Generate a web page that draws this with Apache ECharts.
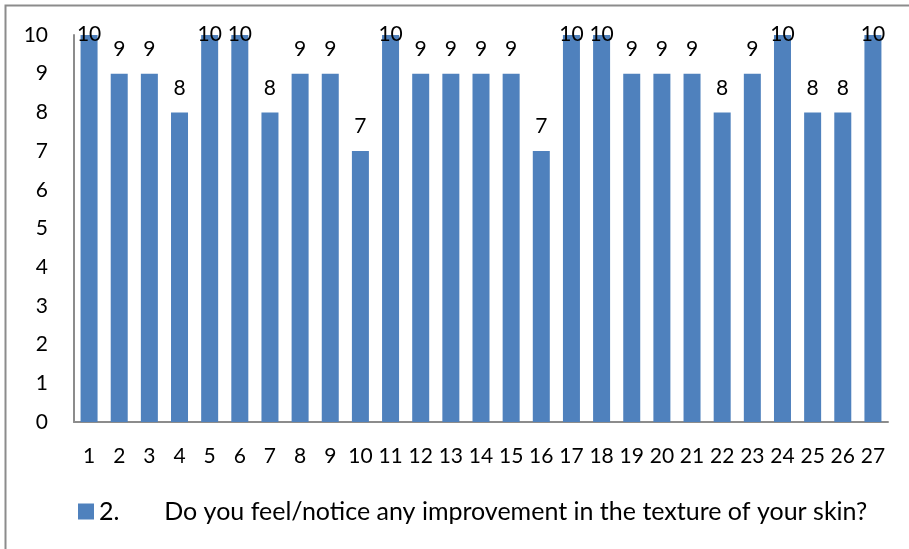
<!DOCTYPE html>
<html>
<head>
<meta charset="utf-8">
<script src="https://cdn.jsdelivr.net/npm/echarts@6/dist/echarts.min.js"></script>
<style>
  html, body { margin: 0; padding: 0; background: #fff; }
  #chart { width: 909px; height: 549px; }
</style>
</head>
<body>
<div id="chart"></div>
<script>
// 类目 1..27
const categories = ['1', '2', '3', '4', '5', '6', '7', '8', '9', '10', '11', '12', '13', '14',
    '15', '16', '17', '18', '19', '20', '21', '22', '23', '24', '25', '26', '27']
const values = [10, 9, 9, 8, 10, 10, 8, 9, 9, 7, 10, 9, 9, 9, 9, 7, 10, 10, 9, 9, 9, 8, 9, 10, 8, 8, 10]
const yTicks = [0, 1, 2, 3, 4, 5, 6, 7, 8, 9, 10]
const seriesName = '2.       Do you feel/notice any improvement in the texture of your skin?'

const font = 'Lato, "Open Sans", sans-serif'
const yMax = yTicks[yTicks.length - 1]

// 顶格的标签被压回绘图区内
const barData = values.map(function (v) {
    if (v < yMax) return v
    return { value: v, label: { offset: [0, 24] } }
})

const chart = echarts.init(document.getElementById('chart'))

const option = {
    animation: false,
    textStyle: { fontFamily: font },
    graphic: [{
        type: 'rect',
        shape: { x: 5.5, y: 5.5, width: 940, height: 580 },
        style: { fill: 'none', stroke: '#8c8c8c', lineWidth: 2 }
    }],
    grid: { left: 74, right: 21, top: 35, bottom: 127 },
    legend: {
        left: 73,
        top: 494,
        itemWidth: 16,
        itemHeight: 16,
        itemGap: 6,
        icon: 'rect',
        textStyle: { fontSize: 25, color: '#000', fontFamily: font },
        data: [seriesName]
    },
    xAxis: {
        type: 'category',
        data: categories,
        axisLine: { lineStyle: { color: '#8c8c8c', width: 2 } },
        axisTick: { show: false },
        axisLabel: { color: '#000', fontSize: 21, margin: 24, interval: 0 }
    },
    yAxis: {
        type: 'value',
        min: yTicks[0],
        max: yMax,
        interval: 1,
        splitLine: { show: false },
        axisLine: { show: true, lineStyle: { color: '#8c8c8c', width: 2 } },
        axisTick: { show: false },
        axisLabel: { color: '#000', fontSize: 21, margin: 26 }
    },
    series: [{
        name: seriesName,
        type: 'bar',
        data: barData,
        barWidth: 17,
        itemStyle: { color: '#4F81BD' },
        label: {
            show: true,
            position: 'top',
            distance: 14,
            color: '#000',
            fontSize: 21
        }
    }]
}
chart.setOption(option)
</script>
</body>
</html>
